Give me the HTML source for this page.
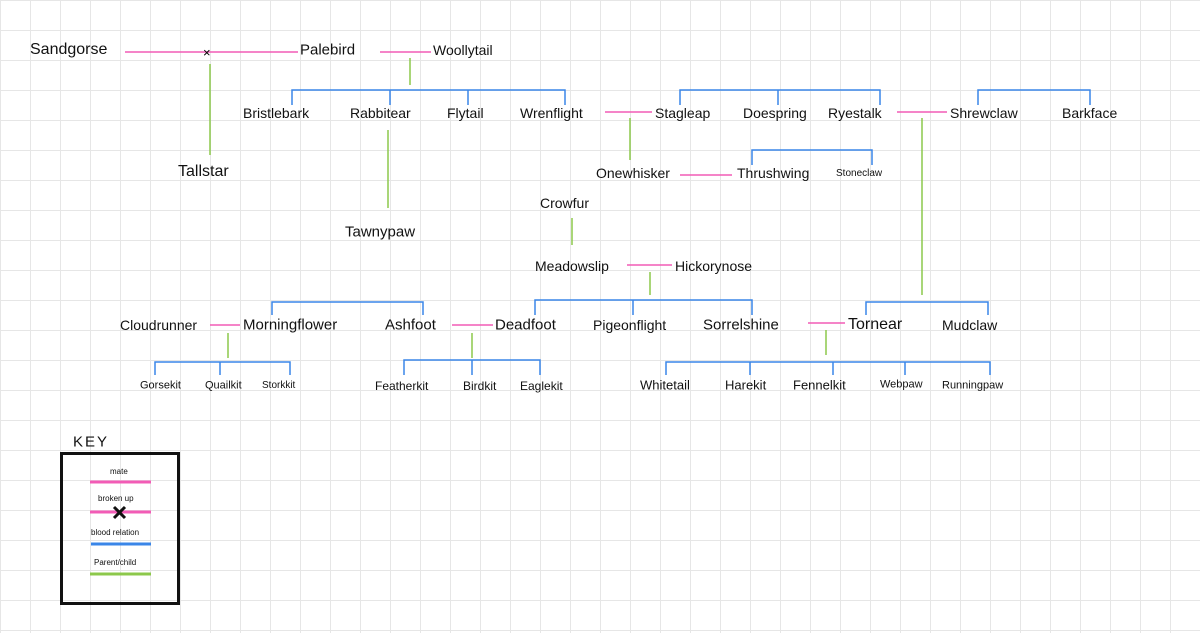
<!DOCTYPE html>
<html><head><style>
body{margin:0;width:1200px;height:633px;overflow:hidden;background:#fff;
background-image:linear-gradient(#e6e6e6 1px,transparent 1px),linear-gradient(90deg,#e6e6e6 1px,transparent 1px);background-size:30px 30px;background-position:0 0;}
.t{position:absolute;font-family:"Liberation Sans",sans-serif;color:#111;font-size:14px;white-space:nowrap;line-height:1;transform:translateY(-50%)}
.s{font-size:10px}
svg{position:absolute;left:0;top:0}
</style></head><body>
<svg width="1200" height="633">
<g stroke="#f25cb6" stroke-width="1.5">
<line x1="125" y1="52" x2="298" y2="52"/><line x1="380" y1="52" x2="431" y2="52"/>
<line x1="605" y1="112" x2="652" y2="112"/><line x1="897" y1="112" x2="947" y2="112"/>
<line x1="680" y1="175" x2="732" y2="175"/><line x1="627" y1="265" x2="672" y2="265"/>
<line x1="808" y1="323" x2="845" y2="323"/><line x1="210" y1="325" x2="240" y2="325"/>
<line x1="452" y1="325" x2="493" y2="325"/>
</g>
<g stroke="#8cc84b" stroke-width="1.5">
<line x1="210" y1="64" x2="210" y2="155"/><line x1="410" y1="58" x2="410" y2="85"/>
<line x1="388" y1="130" x2="388" y2="208"/><line x1="630" y1="118" x2="630" y2="160"/>
<line x1="922" y1="118" x2="922" y2="295"/><line x1="572" y1="218" x2="572" y2="245"/>
<line x1="650" y1="272" x2="650" y2="295"/><line x1="826" y1="330" x2="826" y2="355"/>
<line x1="472" y1="333" x2="472" y2="358"/><line x1="228" y1="333" x2="228" y2="358"/>
</g>
<g stroke="#3a86e8" stroke-width="1.5" fill="none">
<path d="M292 105V90H565V105M390 90V105M468 90V105"/>
<path d="M680 105V90H880V105M778 90V105"/>
<path d="M978 105V90H1090V105"/>
<path d="M752 165V150H872V165"/>
<path d="M535 315V300H752V315M633 300V315"/>
<path d="M866 315V302H988V315"/>
<path d="M666 375V362H990V375M750 362V375M833 362V375M905 362V375"/>
<path d="M272 315V302H423V315"/>
<path d="M404 375V360H540V375M472 360V375"/>
<path d="M155 375V362H290V375M220 362V375"/>
</g>
<text x="203" y="57" font-family="Liberation Sans" font-size="13">×</text>
<rect x="61.5" y="453.5" width="117" height="150" fill="none" stroke="#111" stroke-width="3"/>
<g stroke-width="3">
<line x1="90" y1="482" x2="151" y2="482" stroke="#f25cb6"/>
<line x1="90" y1="512" x2="151" y2="512" stroke="#f25cb6"/>
<line x1="91" y1="544" x2="151" y2="544" stroke="#3a86e8"/>
<line x1="90" y1="574" x2="151" y2="574" stroke="#8cc84b"/>
</g>
<path d="M114 507l11 11M125 507l-11 11" stroke="#111" stroke-width="3"/>
</svg>
<div class="t" style="left:30px;top:50px;font-size:16px">Sandgorse</div>
<div class="t" style="left:300px;top:50px;font-size:15px">Palebird</div>
<div class="t" style="left:433px;top:50px">Woollytail</div>
<div class="t" style="left:178px;top:172px;font-size:16px">Tallstar</div>
<div class="t" style="left:243px;top:113px">Bristlebark</div>
<div class="t" style="left:350px;top:113px">Rabbitear</div>
<div class="t" style="left:447px;top:113px">Flytail</div>
<div class="t" style="left:520px;top:113px">Wrenflight</div>
<div class="t" style="left:655px;top:113px">Stagleap</div>
<div class="t" style="left:743px;top:113px">Doespring</div>
<div class="t" style="left:828px;top:113px">Ryestalk</div>
<div class="t" style="left:950px;top:113px">Shrewclaw</div>
<div class="t" style="left:1062px;top:113px">Barkface</div>
<div class="t" style="left:345px;top:232px;font-size:15px">Tawnypaw</div>
<div class="t" style="left:596px;top:173px">Onewhisker</div>
<div class="t" style="left:737px;top:173px">Thrushwing</div>
<div class="t" style="left:836px;top:174px;font-size:10px">Stoneclaw</div>
<div class="t" style="left:540px;top:203px">Crowfur</div>
<div class="t" style="left:535px;top:266px">Meadowslip</div>
<div class="t" style="left:675px;top:266px">Hickorynose</div>
<div class="t" style="left:120px;top:325px">Cloudrunner</div>
<div class="t" style="left:243px;top:325px;font-size:15px">Morningflower</div>
<div class="t" style="left:385px;top:325px;font-size:15px">Ashfoot</div>
<div class="t" style="left:495px;top:325px;font-size:15px">Deadfoot</div>
<div class="t" style="left:593px;top:325px">Pigeonflight</div>
<div class="t" style="left:703px;top:325px;font-size:15px">Sorrelshine</div>
<div class="t" style="left:848px;top:325px;font-size:16px">Tornear</div>
<div class="t" style="left:942px;top:325px">Mudclaw</div>
<div class="t" style="left:140px;top:386px;font-size:11px">Gorsekit</div>
<div class="t" style="left:205px;top:386px;font-size:11px">Quailkit</div>
<div class="t" style="left:262px;top:386px;font-size:10px">Storkkit</div>
<div class="t" style="left:375px;top:386px;font-size:12px">Featherkit</div>
<div class="t" style="left:463px;top:386px;font-size:12px">Birdkit</div>
<div class="t" style="left:520px;top:386px;font-size:12px">Eaglekit</div>
<div class="t" style="left:640px;top:385px;font-size:13px">Whitetail</div>
<div class="t" style="left:725px;top:385px;font-size:13px">Harekit</div>
<div class="t" style="left:793px;top:385px;font-size:13px">Fennelkit</div>
<div class="t" style="left:880px;top:385px;font-size:11px">Webpaw</div>
<div class="t" style="left:942px;top:386px;font-size:11px">Runningpaw</div>
<div class="t" style="left:73px;top:442px;font-size:15px;letter-spacing:2px">KEY</div>
<div class="t s" style="left:110px;top:472px;font-size:8px">mate</div>
<div class="t s" style="left:98px;top:499px;font-size:8px">broken up</div>
<div class="t s" style="left:91px;top:533px;font-size:8px">blood relation</div>
<div class="t s" style="left:94px;top:563px;font-size:8px">Parent/child</div>
</body></html>
